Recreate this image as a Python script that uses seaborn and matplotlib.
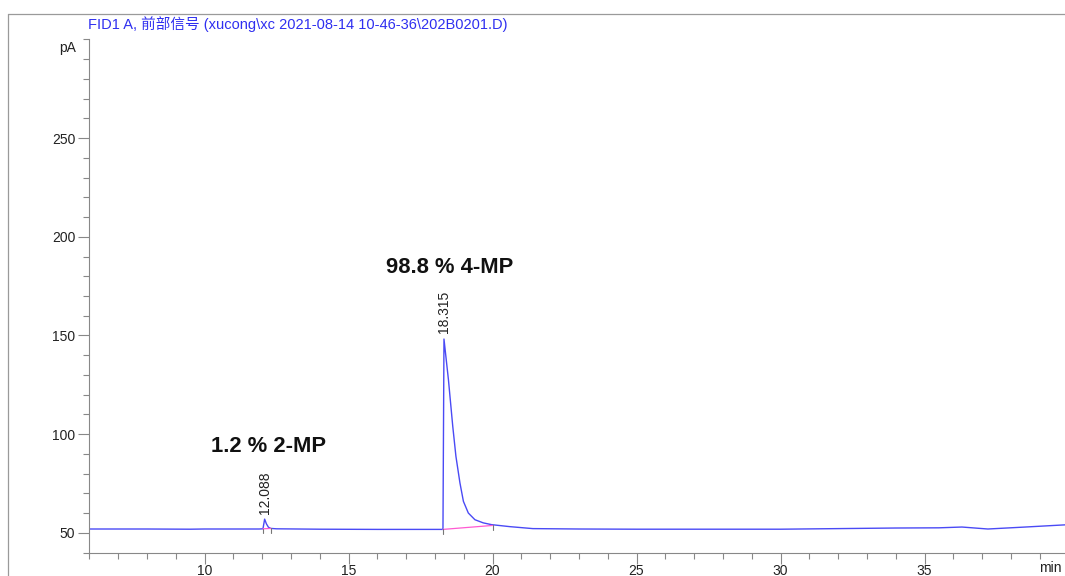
import matplotlib
matplotlib.use("Agg")
import matplotlib.pyplot as plt
from matplotlib.lines import Line2D
from matplotlib.ticker import MultipleLocator
import pandas as pd
import seaborn as sns

# FID1 A signal trace (retention time in min, signal in pA)
time_min = [6.0, 8.0, 9.5, 10.0, 11.9, 12.03, 12.088, 12.15, 12.22, 12.3, 12.5,
            14.0, 16.0, 18.0, 18.28, 18.315, 18.47, 18.62, 18.73, 18.87, 18.99,
            19.16, 19.39, 19.68, 19.97, 20.6, 21.4, 23.0, 25.0, 28.0, 30.0,
            32.0, 34.0, 35.5, 36.3, 37.2, 38.5, 40.0]
signal_pa = [52.0, 52.0, 51.9, 52.0, 52.0, 52.1, 57.0, 54.6, 52.9, 52.3, 52.1,
             51.9, 51.8, 51.8, 51.8, 148.2, 127.6, 104.0, 88.8, 75.3, 66.0,
             60.1, 56.7, 55.1, 54.2, 53.2, 52.2, 52.0, 51.9, 51.9, 51.9,
             52.2, 52.5, 52.6, 53.0, 52.0, 53.0, 54.2]

# Integrated peaks
peak_rt = [12.088, 18.315]
peak_height = [57.0, 148.2]
peak_start = [12.03, 18.28]
peak_start_level = [52.1, 51.8]
peak_end = [12.3, 20.0]
peak_end_level = [52.3, 53.8]
peak_names = ["1.2 % 2-MP", "98.8 % 4-MP"]
name_pos_t = [12.21, 18.52]
name_pos_pa = [94.0, 184.5]

title_text = "FID1 A, 前部信号 (xucong\\xc 2021-08-14 10-46-36\\202B0201.D)"

sns.set_theme(style="white")
plt.rcParams["font.family"] = ["Liberation Sans", "Noto Sans CJK SC", "DejaVu Sans"]

W, H = 1065, 576
fig = plt.figure(figsize=(W / 100, H / 100), dpi=100)
ax = fig.add_axes([89.3 / W, (H - 552.7) / H, 979.2 / W, (552.7 - 39.3) / H])

trace = pd.DataFrame({"t": time_min, "pA": signal_pa})
sns.lineplot(data=trace, x="t", y="pA", ax=ax, color="#4a4af5", linewidth=1.0,
             estimator=None, sort=False)

# integration baselines and start/end markers
for s, sl, e, el in zip(peak_start, peak_start_level, peak_end, peak_end_level):
    ax.plot([s, e], [sl, el], color="#ff5ad2", linewidth=0.9, zorder=3)
    for tt, lv in ((s, sl), (e, el)):
        ax.plot([tt, tt], [lv, lv - 2.2], color="#777777", linewidth=0.8, zorder=3)

# retention time labels above the apexes
for rt, h in zip(peak_rt, peak_height):
    ax.annotate(f"{rt:.3f}", xy=(rt, h), xytext=(0, 4), textcoords="offset points",
                rotation=90, ha="center", va="bottom", fontsize=10, color="#222222")

for name, tx, ty in zip(peak_names, name_pos_t, name_pos_pa):
    ax.text(tx, ty, name, ha="center", va="center", fontsize=15.8,
            fontweight="bold", color="#111111")

ax.set_xlim(6, 40)
ax.set_ylim(40, 300)
ax.xaxis.set_minor_locator(MultipleLocator(1))
ax.yaxis.set_minor_locator(MultipleLocator(10))
ax.set_yticks([50, 100, 150, 200, 250])
ax.set_xticks([10, 15, 20, 25, 30, 35])
ax.tick_params(axis="y", which="major", length=8, width=0.8, color="#888888",
               labelsize=10, labelcolor="#222222", pad=2, left=True)
ax.tick_params(axis="x", which="major", length=8, width=0.8, color="#888888",
               labelsize=10, labelcolor="#222222", pad=0, bottom=True)
ax.tick_params(axis="both", which="minor", length=4, width=0.8, color="#888888",
               left=True, bottom=True)
ax.set_xlabel("")
ax.set_ylabel("")
for side in ("top", "right"):
    ax.spines[side].set_visible(False)
for side in ("left", "bottom"):
    ax.spines[side].set_color("#888888")
    ax.spines[side].set_linewidth(0.8)

# unit labels
ax.text(-0.0135, 0.984, "pA", transform=ax.transAxes, ha="right", va="center",
        fontsize=10, color="#222222")
fig.text(1062 / W, 1 - 568 / H, "min", ha="right", va="center", fontsize=10,
         color="#222222")

# report frame and signal title
fig.add_artist(Line2D([8.3 / W, 8.3 / W], [0, 1 - 14 / H], color="#9a9a9a",
                      linewidth=0.9, transform=fig.transFigure))
fig.add_artist(Line2D([8.3 / W, 1], [1 - 14 / H, 1 - 14 / H], color="#9a9a9a",
                      linewidth=0.9, transform=fig.transFigure))
fig.text(88 / W, 1 - 24 / H, title_text, ha="left", va="center", fontsize=10.5,
         color="#2f2ff0")

fig.savefig("out.png", dpi=100)
